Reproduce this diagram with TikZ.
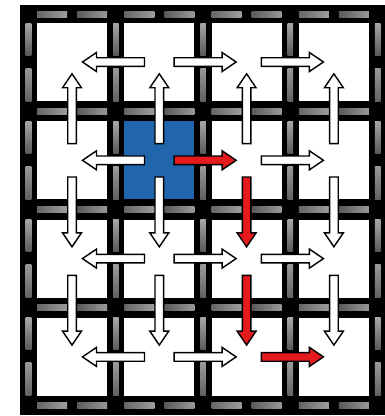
\documentclass[tikz,border=0pt]{standalone}
\usetikzlibrary{calc}
\definecolor{gblue}{HTML}{2166AC}
\definecolor{gred}{HTML}{E41A1C}
\tikzset{
  cell/.style={fill=white, minimum width=70pt, minimum height=78pt, inner sep=0pt, outer sep=0pt},
  flow/.style={draw=black, fill=white, line width=1.4pt, line join=miter,
    to path={
      ($(\tikztostart)!0.17!(\tikztotarget)$) coordinate (fs)
      ($(\tikztostart)!0.88!(\tikztotarget)$) coordinate (ft)
      ($(ft)!14pt!(fs)$) coordinate (fh)
      ($(fs)!4.3pt!90:(ft)$) -- ($(fh)!4.3pt!90:(ft)$) -- ($(fh)!9.5pt!90:(ft)$) -- (ft)
      -- ($(fh)!9.5pt!-90:(ft)$) -- ($(fh)!4.3pt!-90:(ft)$) -- ($(fs)!4.3pt!-90:(ft)$) -- cycle}}
}
\begin{document}
\begin{tikzpicture}[x=1pt,y=-1pt]
 \useasboundingbox[fill=white] (0,0) rectangle (384,416);
 \fill[black] (20,5) rectangle (386,415);
 % gray dashes in the bars
 \foreach \k in {0,...,4} \foreach \c in {1,...,4} {
   \shade[left color=black!60, right color=black!38] ({37+87.3*(\c-1)},{14+97.8*\k-3}) rectangle ++(30,6);
   \shade[left color=black!65, right color=black!40] ({77+87.3*(\c-1)},{14+97.8*\k-3}) rectangle ++(30,6);
 }
 \foreach \k in {0,...,4} \foreach \r in {1,...,4} {
   \shade[top color=black!35, bottom color=black!65] ({28.5+87.3*\k-2.8},{23+98.3*(\r-1)}) rectangle ++(5.6,32);
   \shade[top color=black!40, bottom color=black!62] ({28.5+87.3*\k-2.8},{68+98.3*(\r-1)}) rectangle ++(5.6,33);
 }
 % cells
 \foreach \r in {1,...,4} \foreach \c in {1,...,4}
   \node[cell] (c\r\c) at ({72+87.3*(\c-1)},{62+98.3*(\r-1)}) {};
 \fill[gblue] (c22.north west) rectangle (c22.south east);
 % moves
 \foreach \r in {1,...,4} \draw[flow] (c\r2) to (c\r1);
 \foreach \r/\f in {1/white,2/gred,3/white,4/white} \draw[flow,fill=\f] (c\r2) to (c\r3);
 \foreach \r/\f in {1/white,2/white,3/white,4/gred} \draw[flow,fill=\f] (c\r3) to (c\r4);
 \foreach \c in {1,...,4} \draw[flow] (c2\c) to (c1\c);
 \foreach \c/\f in {1/white,2/white,3/gred,4/white} \draw[flow,fill=\f] (c2\c) to (c3\c);
 \foreach \c/\f in {1/white,2/white,3/gred,4/white} \draw[flow,fill=\f] (c3\c) to (c4\c);
\end{tikzpicture}
\end{document}
